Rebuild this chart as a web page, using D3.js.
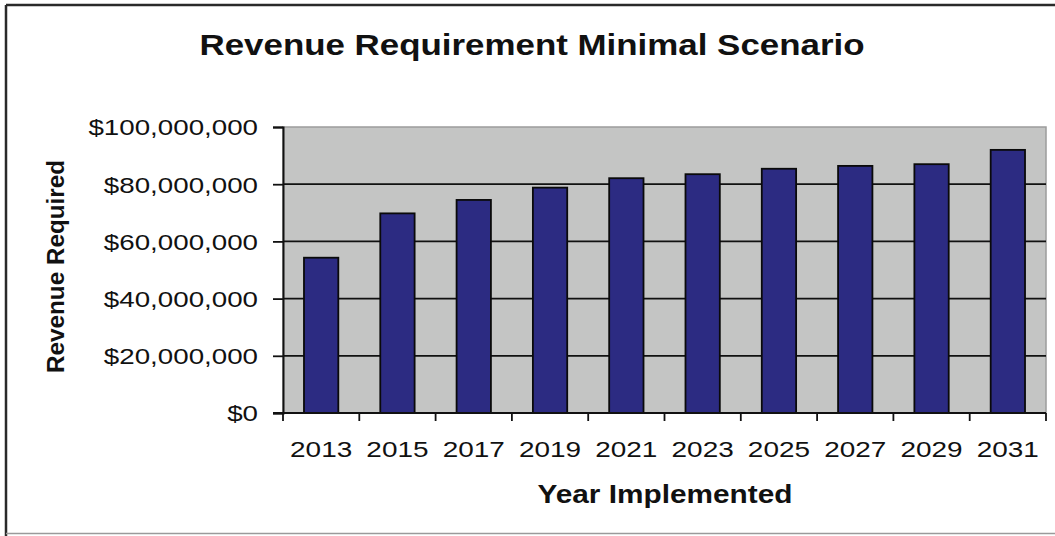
<!DOCTYPE html>
<html>
<head>
<meta charset="utf-8">
<script src="https://cdn.jsdelivr.net/npm/d3@7"></script>
<style>
  html, body { margin: 0; padding: 0; background: #fff; }
  svg { display: block; font-family: Arial, "Liberation Sans", sans-serif; }
</style>
</head>
<body>
<svg id="chart" width="1055" height="536"></svg>
<script>
// Revenue required by year of implementation (minimal scenario)
const years = ["2013", "2015", "2017", "2019", "2021", "2023", "2025", "2027", "2029", "2031"];
const revenue = [54300000, 69800000, 74500000, 78800000, 82100000, 83500000, 85400000, 86400000, 87000000, 92000000];
const yTicks = [0, 20000000, 40000000, 60000000, 80000000, 100000000];

const chartTitle = "Revenue Requirement Minimal Scenario";
const xTitle = "Year Implemented";
const yTitle = "Revenue Required";

const svg = d3.select("#chart");
const plot = { left: 283, right: 1046, top: 127, bottom: 413 };

// Outer chart frame
svg.append("line").attr("x1", 6).attr("x2", 1055).attr("y1", 5).attr("y2", 5)
  .attr("stroke", "#2a2a2a").attr("stroke-width", 2.5);
svg.append("line").attr("x1", 6).attr("x2", 6).attr("y1", 5).attr("y2", 536)
  .attr("stroke", "#2a2a2a").attr("stroke-width", 2.5);
svg.append("line").attr("x1", 6).attr("x2", 1055).attr("y1", 533.5).attr("y2", 533.5)
  .attr("stroke", "#9a9a9a").attr("stroke-width", 1.5);

const x = d3.scaleBand()
  .domain(years)
  .range([plot.left, plot.right])
  .paddingInner(0.55)
  .paddingOuter(0.275);

const y = d3.scaleLinear()
  .domain([0, 100000000])
  .range([plot.bottom, plot.top]);

// Plot area
svg.append("rect")
  .attr("x", plot.left).attr("y", plot.top)
  .attr("width", plot.right - plot.left).attr("height", plot.bottom - plot.top)
  .attr("fill", "#c4c5c4").attr("stroke", "#9c9c9c").attr("stroke-width", 1.5);

// Horizontal gridlines
svg.append("g")
  .selectAll("line")
  .data(yTicks.filter(d => d > 0 && d < 100000000))
  .join("line")
  .attr("x1", plot.left).attr("x2", plot.right)
  .attr("y1", d => y(d)).attr("y2", d => y(d))
  .attr("stroke", "#111").attr("stroke-width", 1.8);

// Bars
svg.append("g")
  .selectAll("rect")
  .data(years.map((yr, i) => ({ yr, v: revenue[i] })))
  .join("rect")
  .attr("x", d => x(d.yr))
  .attr("y", d => y(d.v))
  .attr("width", x.bandwidth())
  .attr("height", d => y(0) - y(d.v))
  .attr("fill", "#2c2b82")
  .attr("stroke", "#0a0a0a")
  .attr("stroke-width", 1.8);

// Y axis
const yAxis = svg.append("g")
  .attr("transform", `translate(${plot.left},0)`)
  .call(d3.axisLeft(y).tickValues(yTicks).tickFormat(d3.format("$,")).tickSize(10).tickPadding(15));
yAxis.select(".domain").attr("stroke", "#111").attr("stroke-width", 2);
yAxis.selectAll(".tick line").attr("stroke", "#111").attr("stroke-width", 1.8);
yAxis.selectAll(".tick text")
  .attr("font-size", 22).attr("fill", "#111").attr("dy", "0.36em");

// X axis: ticks sit on the category boundaries
const half = x.step() * x.paddingInner() / 2;
const bounds = years.map(d => x(d) - half).concat([x(years[years.length - 1]) + x.bandwidth() + half]);
const xAxisG = svg.append("g");
xAxisG.append("line")
  .attr("x1", plot.left - 10).attr("x2", plot.right)
  .attr("y1", plot.bottom).attr("y2", plot.bottom)
  .attr("stroke", "#111").attr("stroke-width", 2);
xAxisG.selectAll("line.tk")
  .data(bounds)
  .join("line").attr("class", "tk")
  .attr("x1", d => d).attr("x2", d => d)
  .attr("y1", plot.bottom).attr("y2", plot.bottom + 8)
  .attr("stroke", "#111").attr("stroke-width", 1.8);
xAxisG.selectAll("text")
  .data(years)
  .join("text")
  .attr("x", d => x(d) + x.bandwidth() / 2)
  .attr("y", 457)
  .attr("text-anchor", "middle")
  .attr("font-size", 22).attr("fill", "#111")
  .text(d => d);

// Tick labels are set a little wider than the font's natural width
function widen(sel, factor) {
  sel.each(function () {
    const w = this.getComputedTextLength();
    d3.select(this).attr("textLength", w * factor).attr("lengthAdjust", "spacingAndGlyphs");
  });
}
widen(yAxis.selectAll(".tick text"), 1.26);
widen(xAxisG.selectAll("text"), 1.27);

// Titles
svg.append("text")
  .attr("x", 532).attr("y", 55)
  .attr("text-anchor", "middle")
  .attr("font-size", 30).attr("font-weight", "bold").attr("fill", "#111")
  .attr("textLength", 665).attr("lengthAdjust", "spacingAndGlyphs")
  .text(chartTitle);

svg.append("text")
  .attr("x", 665).attr("y", 503)
  .attr("text-anchor", "middle")
  .attr("font-size", 25).attr("font-weight", "bold").attr("fill", "#111")
  .attr("textLength", 255).attr("lengthAdjust", "spacingAndGlyphs")
  .text(xTitle);

svg.append("text")
  .attr("transform", "translate(64,266.5) rotate(-90)")
  .attr("text-anchor", "middle")
  .attr("font-size", 23).attr("font-weight", "bold").attr("fill", "#111")
  .attr("textLength", 213).attr("lengthAdjust", "spacingAndGlyphs")
  .text(yTitle);
</script>
</body>
</html>
